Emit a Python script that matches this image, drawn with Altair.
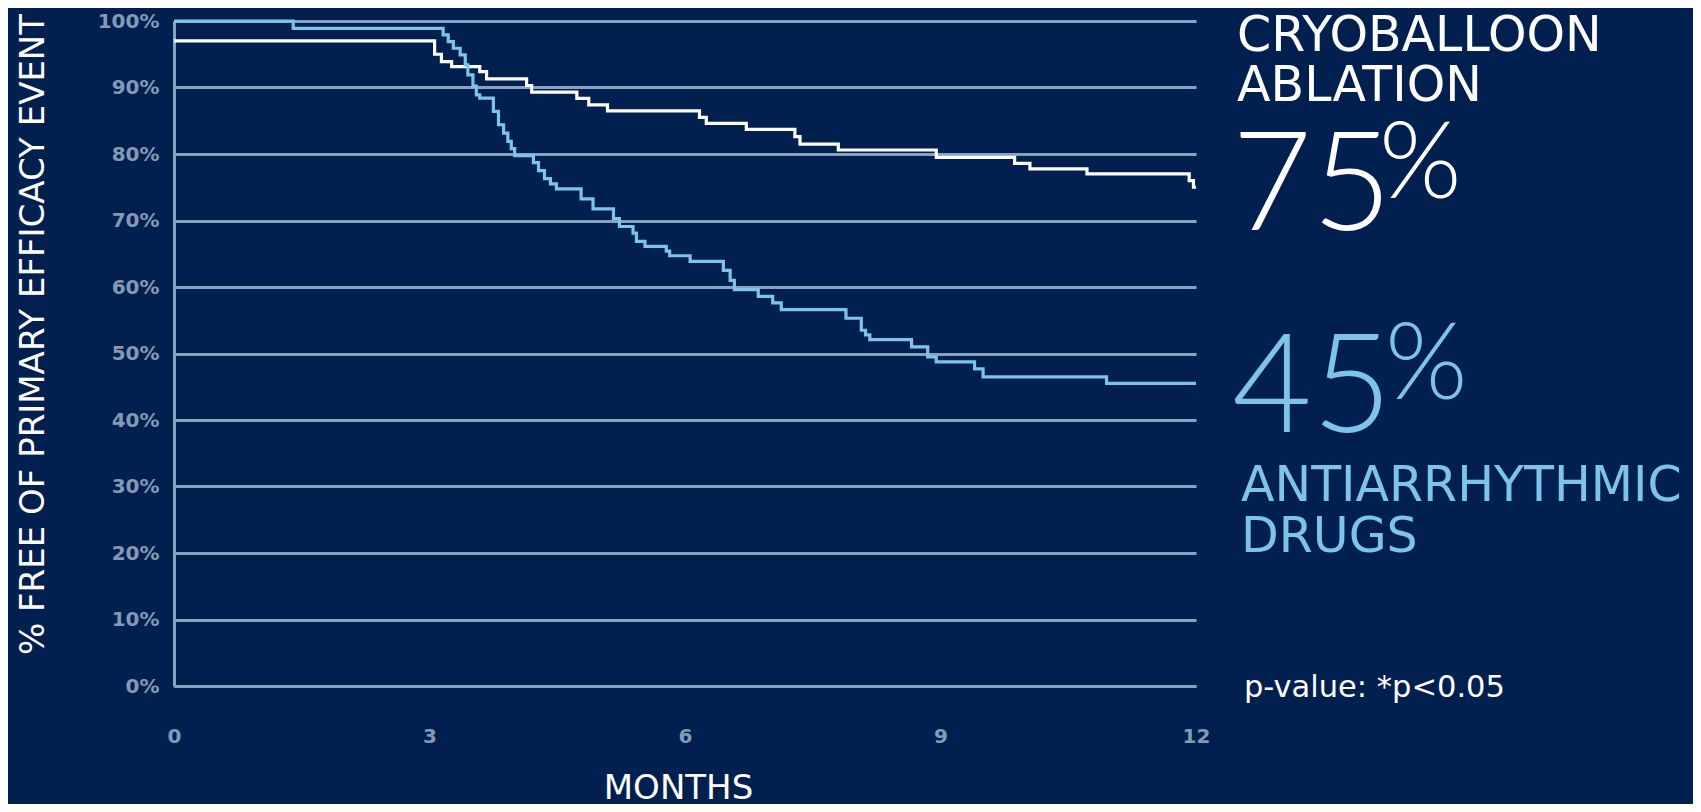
import altair as alt
import pandas as pd

# ---- data ----
cryo_months = [0, 3.06, 3.14, 3.26, 3.59, 3.67, 4.14, 4.20, 4.73, 4.87,
               5.09, 6.17, 6.25, 6.72, 7.29, 7.35, 7.80, 8.95, 9.87, 10.05,
               10.72, 11.92, 11.97, 12]
cryo_pct = [97, 95, 93.9, 93.15, 92.4, 91.3, 90.3, 89.3, 88.35, 87.4,
            86.5, 85.5, 84.6, 83.7, 82.6, 81.5, 80.6, 79.5, 78.6, 77.75,
            77, 76, 75, 75]

aad_months = [0, 1.40, 3.16, 3.22, 3.28, 3.36, 3.42, 3.45, 3.51, 3.55,
              3.59, 3.75, 3.81, 3.87, 3.92, 3.96, 4.00, 4.22, 4.28, 4.35,
              4.42, 4.49, 4.78, 4.92, 5.16, 5.23, 5.39, 5.43, 5.53, 5.78,
              5.82, 6.06, 6.45, 6.53, 6.58, 6.86, 7.03, 7.13, 7.89, 8.07,
              8.12, 8.17, 8.66, 8.85, 8.95, 9.40, 9.50, 10.95, 12]
aad_pct = [100, 98.9, 97.9, 96.9, 95.9, 94.9, 93.4, 91.9, 90.2, 88.9,
           88.4, 86.4, 84.4, 83.15, 81.9, 80.8, 79.75, 78.7, 77.5, 76.3,
           75.5, 74.75, 73.25, 71.75, 70.3, 69.1, 68.1, 66.85, 66.1, 65.4,
           64.7, 63.85, 62.5, 61, 59.6, 58.6, 57.6, 56.6, 55.3, 53.5,
           52.8, 52.1, 51, 49.5, 48.75, 47.7, 46.5, 45.5, 45.5]

x_ticks = [0, 3, 6, 9, 12]
y_ticks = [0, 10, 20, 30, 40, 50, 60, 70, 80, 90, 100]

cryo_label = ["CRYOBALLOON", "ABLATION"]
cryo_value = "75"
aad_label = ["ANTIARRHYTHMIC", "DRUGS"]
aad_value = "45"
p_text = "p-value: *p<0.05"

# ---- styles ----
BG = "#02204f"
GRID = "#88a2c2"
TICKLAB = "#8598b6"
WHITE = "#ffffff"
BLUE = "#7ec3ea"
LABFONT = "DejaVu Sans"
BIGFONT = "Lato"

W, H = 1022, 665

cryo_df = pd.DataFrame({"month": cryo_months, "pct": cryo_pct})
aad_df = pd.DataFrame({"month": aad_months, "pct": aad_pct})

xscale = alt.Scale(domain=[0, 12], nice=False, zero=False)
yscale = alt.Scale(domain=[0, 100], nice=False)

xaxis = alt.Axis(values=x_ticks, format="d", grid=False, ticks=False,
                 domain=True, domainColor=GRID, domainWidth=3,
                 labelFlush=False,
                 labelFont=LABFONT, labelFontSize=20, labelFontWeight="bold",
                 labelColor=TICKLAB, labelPadding=40, title="MONTHS",
                 titleFont=LABFONT, titleFontSize=34, titleFontWeight="normal",
                 titleColor=WHITE, titleX=504, titleY=112,
                 titleBaseline="alphabetic", titleAlign="center")
yaxis = alt.Axis(values=y_ticks, labelExpr="datum.value + '%'", grid=True,
                 gridColor=GRID, gridWidth=3, gridOpacity=1, ticks=False,
                 domain=True, domainColor=GRID, domainWidth=3,
                 labelFlush=False,
                 labelFont=LABFONT, labelFontSize=20, labelFontWeight="bold",
                 labelColor=TICKLAB, labelPadding=15,
                 title="% FREE OF PRIMARY EFFICACY EVENT", titleFont=LABFONT,
                 titleFontSize=34, titleFontWeight="normal", titleColor=WHITE,
                 titleAngle=270, titleX=-141, titleY=313, titleAlign="center",
                 titleBaseline="middle")

cryo_line = alt.Chart(cryo_df).mark_line(
    interpolate="step-after", color=WHITE, strokeWidth=3.2
).encode(
    x=alt.X("month:Q", scale=xscale, axis=xaxis),
    y=alt.Y("pct:Q", scale=yscale, axis=yaxis),
)
aad_line = alt.Chart(aad_df).mark_line(
    interpolate="step-after", color=BLUE, strokeWidth=3.2
).encode(
    x=alt.X("month:Q", scale=xscale),
    y=alt.Y("pct:Q", scale=yscale),
)


def label(text, x, y, size, color, font=LABFONT, weight="normal",
          baseline="alphabetic"):
    return alt.Chart(alt.Data(values=[{"t": text}])).mark_text(
        font=font, fontSize=size, fontWeight=weight, color=color,
        align="left", baseline=baseline
    ).encode(text="t:N", x=alt.value(x), y=alt.value(y))


texts = [
    label(cryo_label[0], 1063, 30, 49, WHITE),
    label(cryo_label[1], 1063, 80, 49, WHITE),
    label(cryo_value, 1058, 209, 138, WHITE, font=BIGFONT, weight=300),
    label("%", 1205, 177, 106, WHITE, font=BIGFONT, weight=300),
    label(aad_value, 1058, 411, 138, BLUE, font=BIGFONT, weight=300),
    label("%", 1211, 378, 106, BLUE, font=BIGFONT, weight=300),
    label(aad_label[0], 1067, 480, 49, BLUE),
    label(aad_label[1], 1067, 531, 49, BLUE),
    label(p_text, 1070, 667, 30.5, WHITE, baseline="middle"),
]

chart = alt.layer(cryo_line, aad_line, *texts).properties(
    width=W, height=H, background=BG,
    autosize=alt.AutoSizeParams(type="none"),
    padding={"left": 166, "top": 13, "right": 497, "bottom": 118},
).configure_view(strokeWidth=0)

chart.save("out.html", embed_options={"renderer": "svg", "actions": False})
